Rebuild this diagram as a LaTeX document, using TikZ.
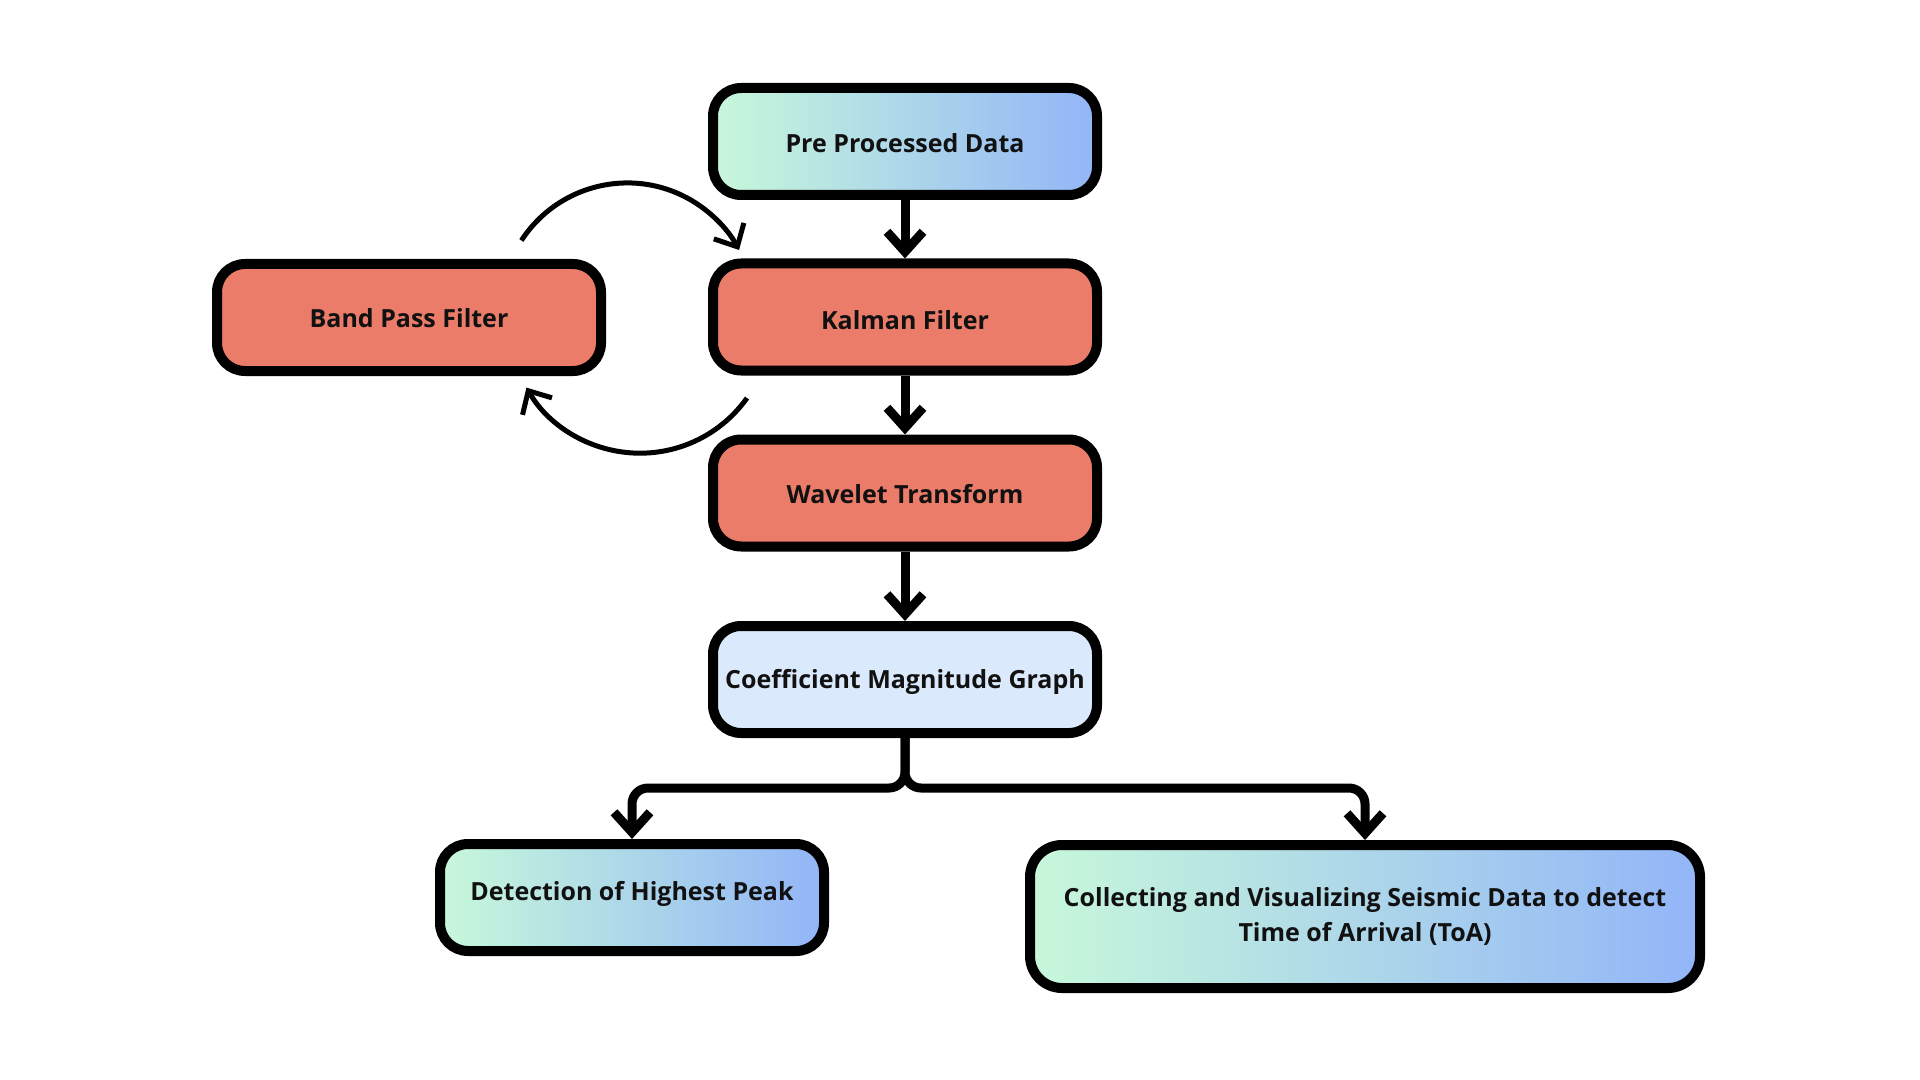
\documentclass[tikz,border=0pt]{standalone}
\usepackage{fontspec}
\setmainfont{Open Sans}
\usetikzlibrary{arrows.meta}
\definecolor{salmon}{HTML}{EB7C6A}
\definecolor{paleblue}{HTML}{DAE9FC}
\definecolor{mint}{HTML}{C8F8DA}
\definecolor{skyblue}{HTML}{92B5F8}
\definecolor{ink}{HTML}{111111}
\tikzset{
  box/.style={rectangle, rounded corners=14pt, draw=black, line width=5pt,
    minimum width=192pt, minimum height=53.5pt, inner sep=0pt,
    font=\bfseries\fontsize{12.5}{17.5}\selectfont, text=ink, align=center},
  oneline/.style={text height=#1, text depth=0pt},
  oneline/.default=9pt,
  redbox/.style={box, fill=salmon},
  gradbox/.style={box, left color=mint, right color=skyblue},
  flow/.style={line width=4.5pt, -{Straight Barb[length=10pt,width=18pt]}},
  loopflow/.style={line width=2.5pt, -{Straight Barb[length=9pt,width=17pt]}},
}
\begin{document}
\begin{tikzpicture}[x=0.5pt,y=-0.5pt]
\useasboundingbox (0,0) rectangle (1920,1080);
\fill[white] (0,0) rectangle (1920,1080);
\node[gradbox, oneline=11.5pt] (pre) at (905,141.5) {Pre Processed Data};
\node[redbox, oneline=12pt] (kal) at (905,317) {Kalman Filter};
\node[redbox, oneline=10pt] (band) at (409,317.5) {Band Pass Filter};
\node[redbox, oneline=10pt] (wav) at (905,493) {Wavelet Transform};
\node[box, oneline, fill=paleblue] (coef) at (905,679.5) {Coefficient Magnitude Graph};
\node[gradbox, text height=9pt, text depth=6pt] (det) at (632,897.5) {Detection of Highest Peak};
\node[gradbox, rounded corners=16pt, minimum width=335pt, minimum height=71.5pt] (col) at (1365,916.5)
  {Collecting and Visualizing Seismic Data to detect\\Time of Arrival (ToA)};
\draw[flow] (pre.south) -- (kal.north);
\draw[flow] (kal.south) -- (wav.north);
\draw[flow] (wav.south) -- (coef.north);
\coordinate (split) at (905,788);
\draw[flow, rounded corners=8pt] (coef.south) -- (split) -| (det.north);
\draw[flow, rounded corners=8pt] (coef.south) -- (split) -| (col.north);
\coordinate (upstart) at (521.4,240.5);
\coordinate (lowstart) at (747,398);
\draw[loopflow] (upstart) arc[start angle=-147, end angle=-28, radius=126.4];
\draw[loopflow] (lowstart) arc[start angle=35.4, end angle=150, radius=131.2];
\end{tikzpicture}
\end{document}
